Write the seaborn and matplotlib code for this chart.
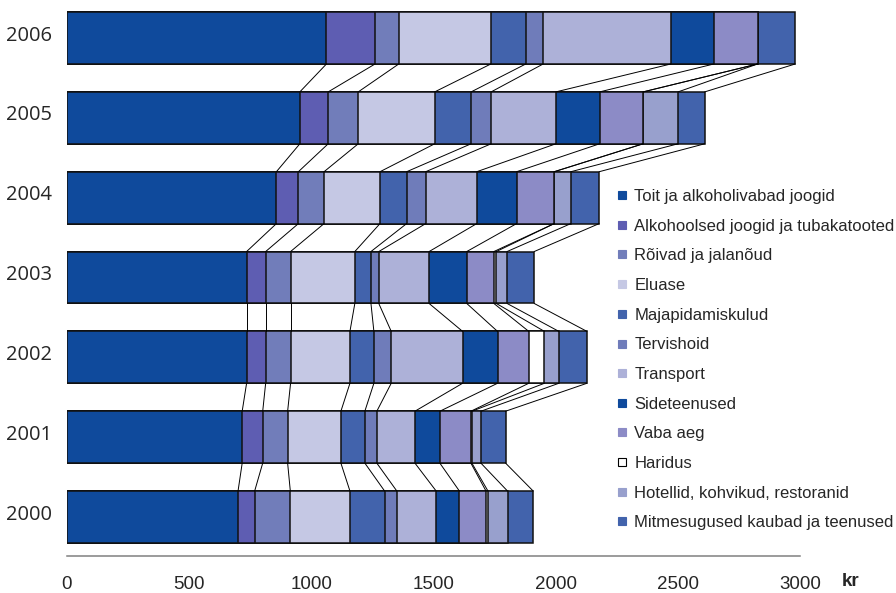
import numpy as np
import pandas as pd
import matplotlib
matplotlib.use("Agg")
import matplotlib.pyplot as plt
import matplotlib.transforms as mtrans
import seaborn as sns
from matplotlib.lines import Line2D

years = ["2006", "2005", "2004", "2003", "2002", "2001", "2000"]
categories = [
    "Toit ja alkoholivabad joogid",
    "Alkohoolsed joogid ja tubakatooted",
    "Rõivad ja jalanõud",
    "Eluase",
    "Majapidamiskulud",
    "Tervishoid",
    "Transport",
    "Sideteenused",
    "Vaba aeg",
    "Haridus",
    "Hotellid, kohvikud, restoranid",
    "Mitmesugused kaubad ja teenused",
]
# values in kr, order of years as above (2006 ... 2000)
toit      = [1062, 953, 857, 735, 735, 717, 700]
alkohol   = [199, 116, 90, 78, 78, 84, 68]
roivad    = [97, 123, 105, 102, 102, 102, 146]
eluase    = [377, 313, 229, 263, 243, 218, 244]
majap     = [143, 149, 109, 66, 98, 98, 142]
tervis    = [71, 82, 78, 32, 71, 49, 50]
transport = [523, 265, 209, 206, 292, 156, 161]
side      = [176, 179, 163, 154, 143, 102, 95]
vaba      = [179, 178, 154, 111, 128, 127, 109]
haridus   = [0, 0, 0, 10, 64, 4, 8]
hotellid  = [0, 143, 68, 44, 59, 37, 80]
mitme     = [154, 109, 116, 111, 115, 101, 105]
series = [toit, alkohol, roivad, eluase, majap, tervis, transport,
          side, vaba, haridus, hotellid, mitme]

colors = ["#0F4A9C", "#5E5DB2", "#717DBA", "#C5C8E4", "#4263AC", "#6F7CBA",
          "#ADB1D8", "#0F4A9C", "#8C8BC6", "#FFFFFF", "#98A0CD", "#4263AC"]

xticks = [0, 500, 1000, 1500, 2000, 2500, 3000]

df = pd.DataFrame(np.array(series).T, columns=categories)
df.insert(0, "year", years)
cum = df[categories].cumsum(axis=1)

sns.set_style("white")
fig = plt.figure(figsize=(8.96, 5.93), dpi=100)
ax = fig.add_axes([67 / 896, 1 - 556 / 593, 733 / 896, 556 / 593])

bar_h = 0.65
for k in range(len(categories) - 1, -1, -1):
    d = pd.DataFrame({"year": years, "v": cum[categories[k]].values})
    sns.barplot(data=d, x="v", y="year", order=years, orient="h",
                color=colors[k], saturation=1, width=bar_h, errorbar=None,
                edgecolor="#111111", linewidth=1.1, ax=ax)

# connecting lines between consecutive years
cv = cum.values
for i in range(len(years) - 1):
    for k in range(len(categories)):
        ax.plot([cv[i, k], cv[i + 1, k]], [i + bar_h / 2, i + 1 - bar_h / 2],
                color="black", lw=0.7, zorder=1)

ax.set_xlim(0, 3000)
ax.set_ylim(6.4885, -0.476)
ax.set_xticks(xticks)
ax.set_xticklabels([str(t) for t in xticks], fontsize=13.5, family="Liberation Sans")
ax.tick_params(axis="x", length=0, pad=14.2)
ax.tick_params(axis="y", length=0, pad=11)
up = mtrans.ScaledTranslation(0, 5 / 100, fig.dpi_scale_trans)
for lab in ax.get_yticklabels():
    lab.set_fontsize(14.5)
    lab.set_family("Open Sans")
    lab.set_transform(lab.get_transform() + up)
ax.set_xlabel("")
ax.set_ylabel("")
for s in ["top", "right", "left"]:
    ax.spines[s].set_visible(False)
ax.spines["bottom"].set_color("#808080")
ax.spines["bottom"].set_linewidth(1.1)

fig.text(842 / 896, 1 - 581 / 593, "kr", fontsize=13.5, fontweight="bold",
         family="Liberation Sans", ha="left", va="center")

handles = []
for c, col in zip(categories, colors):
    ec = "black" if col == "#FFFFFF" else col
    handles.append(Line2D([], [], marker="s", linestyle="none", markersize=6.3,
                          markerfacecolor=col, markeredgecolor=ec,
                          markeredgewidth=0.8))
fig.legend(handles, categories, loc="upper left",
           bbox_to_anchor=(616 / 896, 1 - 189 / 593),
           bbox_transform=fig.transFigure, frameon=False,
           prop={"family": "Liberation Sans", "size": 12},
           borderpad=0, borderaxespad=0, handlelength=0.7,
           handletextpad=0.4, labelspacing=0.88)

fig.savefig("out.png", dpi=100)
